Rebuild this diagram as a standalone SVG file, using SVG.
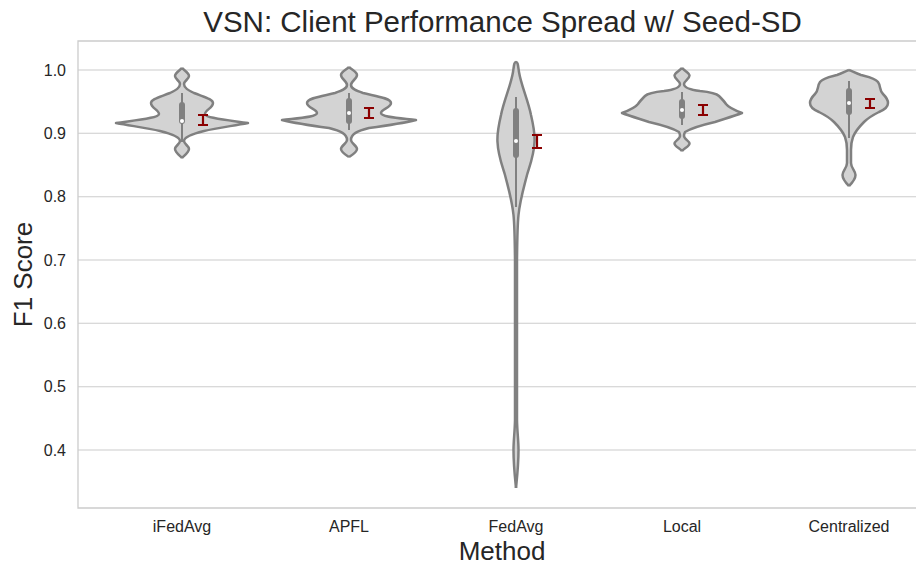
<svg xmlns="http://www.w3.org/2000/svg" width="916" height="567" viewBox="0 0 916 567">
<style>
.bg{fill:#ffffff}
.grid{stroke:#cccccc;stroke-width:1.1;fill:none}
.spine{stroke:#cccccc;stroke-width:1.3;fill:none}
.tick{font-family:"Liberation Sans",Arial,sans-serif;font-size:16px;fill:#262626}
.ylab{text-anchor:end}
.xlab{text-anchor:middle}
.axlabel{font-family:"Liberation Sans",Arial,sans-serif;font-size:26px;fill:#262626;text-anchor:middle}
.title{font-family:"Liberation Sans",Arial,sans-serif;font-size:29.5px;fill:#262626;text-anchor:middle}
.vhalf{fill:#d3d3d3;stroke:#808080;stroke-width:2.5;stroke-linejoin:round}
.whisker{stroke:#808080;stroke-width:2;stroke-linecap:butt}
.box{stroke:#808080;stroke-width:6;stroke-linecap:round}
.median{fill:#ffffff}
.err{stroke:#8b0000;stroke-width:2.2;fill:none}
</style>
<defs>
<path id="v-ifedavg" d="M0,68 C3,71 7,73 7,76 C7,79 2,81 2,84 C2,88 6,90 12,93 C22,97 31,99 31,103 C31,108 23,110 23,114 C23,118 45,120 66,123 C50,126 35,128 22,131 C10,134 2,137 2,141 C2,144 7,146 7,149 C7,152 3,155 0,158"/>
<path id="v-apfl" d="M0,67 C3,70 8,72 8,75 C8,79 2,81 2,85 C2,89 8,91 14,93 C26,96 42,98 42,103 C42,108 32,109 32,113 C32,117 50,118 67,120 C55,123 35,126 20,128 C8,131 2,134 2,140 C2,143 8,146 8,149 C8,152 3,155 0,157"/>
<path id="v-fedavg" d="M0,62 C2,62 2,66 3,72 C5,85 12,100 15,115 C18,128 19,135 18.5,142 C18,155 14,165 11,175 C8,187 4,200 2.5,215 C1.5,225 1.2,240 1,260 L1,420 C1.2,432 2.5,440 2.5,450 C2.5,465 1,478 0,488"/>
<path id="v-local" d="M0,68 C3,71 7.5,73 7.5,75.5 C7.5,79 2,81 2,84 C2,88 10,90 18,91 C28,92 34,93 37,96 C40,99 42,101 44,104 C47,108 52,110 60,113 C52,116 42,119 33,122 C20,125 8,129 3,132 C2,134 2,135 2,136 C2,139 7.5,141 7.5,143.5 C7.5,146 3,148 0,151"/>
<path id="v-central" d="M0,70 C3,71 6,73 12,75 C20,77 26,78 29,82 C32,86 30,90 34,94 C38,98 39,100 39,103 C39,107 35,110 30,112 C24,115 19,118 15,122 C10,127 6,132 4,137 C2.5,141 2,145 2,150 L2,163 C2,168 6.5,171 6.5,175 C6.5,179 3,183 0,186"/>
</defs>
<rect class="bg" x="0" y="0" width="916" height="567"/>
<g id="axes">
<line class="grid" x1="78" y1="70" x2="916" y2="70"/>
<line class="grid" x1="78" y1="133.3" x2="916" y2="133.3"/>
<line class="grid" x1="78" y1="196.7" x2="916" y2="196.7"/>
<line class="grid" x1="78" y1="260" x2="916" y2="260"/>
<line class="grid" x1="78" y1="323.3" x2="916" y2="323.3"/>
<line class="grid" x1="78" y1="386.7" x2="916" y2="386.7"/>
<line class="grid" x1="78" y1="450" x2="916" y2="450"/>
<path class="spine" d="M916,41 H78 V508 H916"/>
<text class="tick ylab" x="66" y="75.5">1.0</text>
<text class="tick ylab" x="66" y="138.8">0.9</text>
<text class="tick ylab" x="66" y="202.2">0.8</text>
<text class="tick ylab" x="66" y="265.5">0.7</text>
<text class="tick ylab" x="66" y="328.8">0.6</text>
<text class="tick ylab" x="66" y="392.2">0.5</text>
<text class="tick ylab" x="66" y="455.5">0.4</text>
<text class="tick xlab" x="182" y="532">iFedAvg</text>
<text class="tick xlab" x="349" y="532">APFL</text>
<text class="tick xlab" x="516" y="532">FedAvg</text>
<text class="tick xlab" x="682" y="532">Local</text>
<text class="tick xlab" x="849" y="532">Centralized</text>
<text class="axlabel" x="502" y="560">Method</text>
<text class="axlabel" transform="translate(32,274.5) rotate(-90)">F1 Score</text>
<text class="title" x="502.5" y="32">VSN: Client Performance Spread w/ Seed-SD</text>
</g>
<g id="connectors"></g>
<g id="violin-ifedavg" transform="translate(182,0)">
<use href="#v-ifedavg" class="vhalf"/>
<use href="#v-ifedavg" class="vhalf" transform="scale(-1,1)"/>
<line class="whisker" x1="0" y1="93" x2="0" y2="142"/>
<line class="box" x1="0" y1="105" x2="0" y2="121"/>
<circle class="median" cx="0" cy="121" r="2"/>
<path class="err" d="M21,115 V125 M16,115 H26 M16,125 H26"/>
</g>
<g id="violin-apfl" transform="translate(349,0)">
<use href="#v-apfl" class="vhalf"/>
<use href="#v-apfl" class="vhalf" transform="scale(-1,1)"/>
<line class="whisker" x1="0" y1="93" x2="0" y2="130"/>
<line class="box" x1="0" y1="101" x2="0" y2="121"/>
<circle class="median" cx="0" cy="113" r="2"/>
<path class="err" d="M20,108 V118 M15,108 H25 M15,118 H25"/>
</g>
<g id="violin-fedavg" transform="translate(516,0)">
<use href="#v-fedavg" class="vhalf"/>
<use href="#v-fedavg" class="vhalf" transform="scale(-1,1)"/>
<line class="whisker" x1="0" y1="97" x2="0" y2="207"/>
<line class="box" x1="0" y1="111" x2="0" y2="155"/>
<circle class="median" cx="0" cy="141" r="2"/>
<path class="err" d="M21,135 V148 M16,135 H26 M16,148 H26"/>
</g>
<g id="violin-local" transform="translate(682,0)">
<use href="#v-local" class="vhalf"/>
<use href="#v-local" class="vhalf" transform="scale(-1,1)"/>
<line class="whisker" x1="0" y1="92" x2="0" y2="125"/>
<line class="box" x1="0" y1="102" x2="0" y2="116"/>
<circle class="median" cx="0" cy="110" r="2"/>
<path class="err" d="M21,105 V115 M16,105 H26 M16,115 H26"/>
</g>
<g id="violin-centralized" transform="translate(849,0)">
<use href="#v-central" class="vhalf"/>
<use href="#v-central" class="vhalf" transform="scale(-1,1)"/>
<line class="whisker" x1="0" y1="81" x2="0" y2="138"/>
<line class="box" x1="0" y1="91" x2="0" y2="112"/>
<circle class="median" cx="0" cy="103" r="2"/>
<path class="err" d="M21,99 V108 M16,99 H26 M16,108 H26"/>
</g>
</svg>
